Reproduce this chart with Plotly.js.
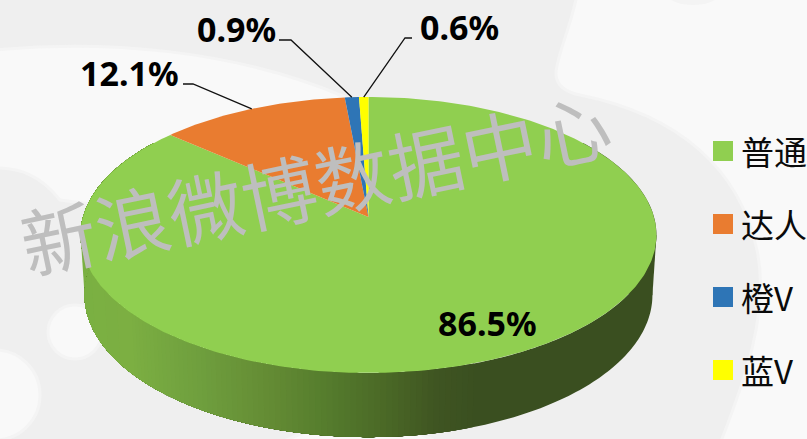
<!DOCTYPE html>
<html>
<head>
<meta charset="utf-8">
<script src="https://cdn.plot.ly/plotly-3.0.1.min.js"></script>
<style>html,body{margin:0;padding:0;background:#efefef;overflow:hidden}#chart{width:807px;height:439px}</style>
</head>
<body>
<div id="chart"></div>
<script>
// User-type share of the Weibo audience, drawn as a tilted 3D pie.
const categories = ['普通', '达人', '橙V', '蓝V'];
const shares = [86.5, 12.1, 0.9, 0.6];
const colors = ['#90CF50', '#E97C30', '#2E75B6', '#FFFF00'];
const legendLabels = ['普通', '达人', '橙V', '蓝V'];
const watermark = '新浪微博数据中心';

const W = 807, H = 439;
const total = shares.reduce((a, b) => a + b, 0);

// Perspective projection of the unit disc onto the page.
const TILT = 0.1304;
const upperFace = {cx: 368.5, cy: 217, a: 285.5, b: 135.65};
const lowerFace = {cx: 368.5, cy: 276.5, a: 281.5, b: 139.7};
function project(face, theta, r) {
  const u = Math.sin(theta) * r, v = Math.cos(theta) * r, w = 1 + TILT * v;
  return [face.cx + face.a * u / w, face.cy - face.b * v / w];
}
const rad = f => f * 2 * Math.PI;

// Side wall colour falls off from left to right across the front of the disc.
const wallStops = [[80, [122, 176, 66]], [130, [124, 175, 66]], [200, [111, 159, 62]],
  [270, [100, 140, 52]], [330, [85, 124, 45]], [390, [74, 104, 38]], [440, [63, 85, 34]], [480, [58, 79, 32]], [660, [58, 79, 32]]];
function wallColor(x) {
  for (let i = 1; i < wallStops.length; i++) {
    const [x0, c0] = wallStops[i - 1], [x1, c1] = wallStops[i];
    if (x <= x1) {
      const t = Math.max(0, (x - x0) / (x1 - x0));
      return 'rgb(' + c0.map((c, k) => Math.round(c + (c1[k] - c) * t)).join(',') + ')';
    }
  }
  return 'rgb(58,79,32)';
}

const traces = [];

// Silhouette on each flank: the straight run between the widest points of the two faces.
function widest(face, sign) {
  let best = null;
  for (let i = 0; i <= 2000; i++) {
    const q = project(face, rad(i / 2000), 1);
    if (!best || sign * q[0] > sign * best[0]) best = q;
  }
  return best;
}
[1, -1].forEach(sign => {
  const a = widest(upperFace, sign), b = widest(lowerFace, sign);
  const col = wallColor(sign > 0 ? a[0] : b[0]);
  traces.push({x: [a[0], b[0], lowerFace.cx, a[0]], y: [a[1], b[1], lowerFace.cy, a[1]],
    mode: 'none', fill: 'toself', fillcolor: col, hoverinfo: 'skip'});
});

// Side wall: each colour step repaints from its own angle to the far end of the
// rim, so neighbouring steps overlap and leave no seams.
const WALL_START = 0.15, WALL_END = 0.85, WALL_STEPS = 240, WALL_EDGE = 260;
let lastWall = null;
for (let i = 0; i < WALL_STEPS; i++) {
  const t0 = WALL_START + (WALL_END - WALL_START) * i / WALL_STEPS;
  const col = wallColor(project(upperFace, rad(t0), 1)[0]);
  if (col === lastWall) continue;
  lastWall = col;
  const xs = [], ys = [], back = [];
  for (let k = 0; k <= WALL_EDGE; k++) {
    const t = t0 + (WALL_END - t0) * k / WALL_EDGE;
    const a = project(upperFace, rad(t), 1), b = project(lowerFace, rad(t), 1);
    xs.push(a[0]); ys.push(a[1]); back.unshift(b);
  }
  back.forEach(b => { xs.push(b[0]); ys.push(b[1]); });
  traces.push({x: xs, y: ys, mode: 'none', fill: 'toself', fillcolor: col, hoverinfo: 'skip'});
}

// Top face wedges, clockwise from twelve o'clock.
let cum = 0;
const mids = [];
shares.forEach((s, i) => {
  const a0 = cum / total, a1 = (cum + s) / total;
  cum += s;
  mids.push((a0 + a1) / 2);
  const xs = [upperFace.cx], ys = [upperFace.cy];
  const n = Math.max(4, Math.ceil((a1 - a0) * 400));
  for (let k = 0; k <= n; k++) {
    const q = project(upperFace, rad(a0 + (a1 - a0) * k / n), 1);
    xs.push(q[0]); ys.push(q[1]);
  }
  xs.push(upperFace.cx); ys.push(upperFace.cy);
  traces.push({x: xs, y: ys, mode: 'lines', fill: 'toself', fillcolor: colors[i],
    line: {width: 0, color: colors[i]}, name: categories[i], hoverinfo: 'name'});
});

// Leader lines for the small wedges: rim point, elbow, then a short run to the label.
const leaderElbows = [null, [[193, 84], [183, 84]], [[291, 40], [279, 40]], [[405, 38], [412, 38]]];
leaderElbows.forEach((el, i) => {
  if (!el) return;
  const q = project(upperFace, rad(mids[i]), 1.0);
  traces.push({x: [q[0], el[0][0], el[1][0]], y: [q[1], el[0][1], el[1][1]], mode: 'lines',
    line: {color: '#111111', width: 1.3}, hoverinfo: 'skip'});
});

// Legend column.
const LEGEND_TOP = 151, LEGEND_STEP = 73;
traces.push({x: categories.map(() => 723), y: categories.map((c, i) => LEGEND_TOP + i * LEGEND_STEP),
  mode: 'markers', marker: {symbol: 'square', size: 20, color: colors, line: {width: 0}}, hoverinfo: 'skip'});

const labelAt = [[487, 323], [129, 73], [236, 29], [459, 27]];
const annotations = shares.map((s, i) => ({
  x: labelAt[i][0], y: labelAt[i][1], xref: 'x', yref: 'y', showarrow: false,
  text: s.toFixed(1) + '%', font: {family: 'Noto Sans, Open Sans, sans-serif', size: 34, color: '#000000', weight: 700}
}));
legendLabels.forEach((t, i) => annotations.push({
  x: 739, y: LEGEND_TOP + i * LEGEND_STEP, xref: 'x', yref: 'y', xanchor: 'left', showarrow: false,
  text: t, font: {family: 'Noto Sans CJK SC, sans-serif', size: 33, color: '#0a0a0a'}
}));
annotations.push({
  x: 315, y: 181, xref: 'x', yref: 'y', showarrow: false, textangle: -11.8,
  text: watermark, font: {family: 'Noto Sans CJK SC, sans-serif', size: 75, color: '#BEBEBE'}
});

// Pale backdrop shapes behind the chart, with a soft rim.
const PALE = '#F9F9F9', RIM = '#F4F4F4';
const pale = path => ({type: 'path', xref: 'x', yref: 'y', layer: 'below', path: path, fillcolor: PALE, line: {width: 3, color: RIM}});
const disc = (x, y, r, ry, fill) => ({type: 'circle', xref: 'x', yref: 'y', layer: 'below', x0: x - r, x1: x + r, y0: y - (ry || r), y1: y + (ry || r), fillcolor: fill || PALE, line: {width: fill ? 0 : 3, color: RIM}});
const shapes = [
  pale('M-5,50 C100,40 230,48 345,97 L370,240 L60,200 C40,175 20,168 -5,168 Z'),
  disc(75, 332, 27),
  disc(-5, 395, 45),
  disc(360, 490, 115, 65),
  pale('M577,-5 C570,30 555,60 556,75 C557,85 565,92 580,95 C680,115 740,170 757,250 C770,310 745,380 720,444 L812,444 L812,-5 Z'),
  disc(693, -5, 25, 10, RIM)
];

Plotly.newPlot('chart', traces, {
  width: W, height: H, margin: {l: 0, r: 0, t: 0, b: 0},
  paper_bgcolor: '#EFEFEF', plot_bgcolor: 'rgba(0,0,0,0)', showlegend: false,
  xaxis: {range: [0, W], visible: false, fixedrange: true},
  yaxis: {range: [H, 0], visible: false, fixedrange: true},
  shapes: shapes, annotations: annotations
}, {displayModeBar: false, staticPlot: true});
</script>
</body>
</html>
